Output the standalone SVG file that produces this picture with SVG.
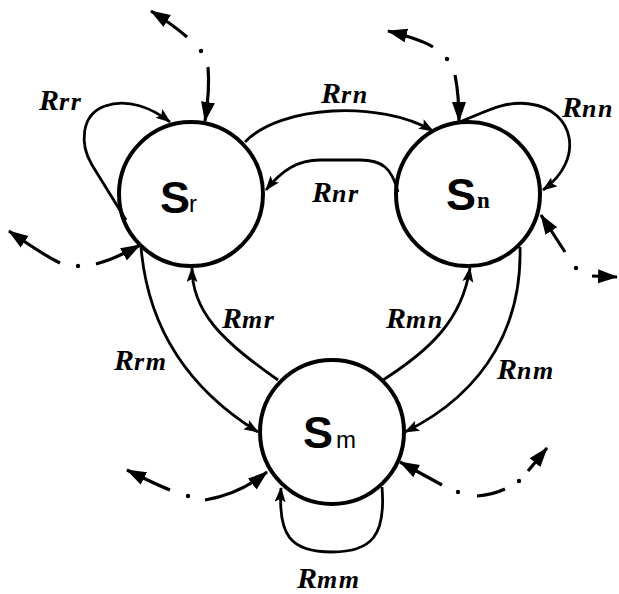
<svg xmlns="http://www.w3.org/2000/svg" width="619" height="594" viewBox="0 0 619 594">
<defs>
<style>
.node{fill:#fff;stroke:#000;stroke-width:4}
.edge{fill:none;stroke:#000;stroke-width:2.8;marker-end:url(#arr)}
.ext{fill:none;stroke:#000;stroke-width:3.2;marker-end:url(#arrD)}
.dot{fill:#000}
.S{font-family:"Liberation Sans",Arial,sans-serif;font-weight:bold;font-size:45px;fill:#000}
.ss{font-family:"Liberation Sans",Arial,sans-serif;font-weight:normal;font-size:24px}
.sn{font-family:"Liberation Serif","Times New Roman",serif;font-weight:bold;font-size:23px}
.lab{font-family:"Liberation Serif","Times New Roman",serif;font-weight:bold;font-style:italic;font-size:30px;fill:#000}
.sub{font-size:26px;letter-spacing:1.5px}
</style>
<marker id="arr" markerUnits="userSpaceOnUse" markerWidth="17" markerHeight="12" refX="14" refY="5.5" orient="auto">
<path d="M0,0 L15,5.5 L0,11 L3,5.5 z" fill="#000"/>
</marker>
<marker id="arrD" markerUnits="userSpaceOnUse" markerWidth="22" markerHeight="15" refX="19" refY="7" orient="auto">
<path d="M0,0 L20,7 L0,14 z" fill="#000"/>
</marker>
</defs>
<rect width="619" height="594" fill="#fff"/>
<g id="node-Sr">
<circle class="node" cx="191" cy="194" r="72"/>
<text class="S" x="160" y="213">S<tspan class="ss" x="189" y="212">r</tspan></text>
</g>
<g id="node-Sn">
<circle class="node" cx="468" cy="194" r="72"/>
<text class="S" x="446" y="210">S<tspan class="sn" x="477" y="208">n</tspan></text>
</g>
<g id="node-Sm">
<circle class="node" cx="332" cy="432" r="72"/>
<text class="S" x="303" y="448">S<tspan class="ss" x="336" y="448">m</tspan></text>
</g>
<g id="connectors">
<path class="edge" d="M126,220 L92,165 C80,145 80,115 105,106 C128,98 152,108 170,122"/>
<path class="edge" d="M245,142 C280,105 380,100 433,131"/>
<path class="edge" d="M398,192 C392,168 382,160 360,160 L320,160 C298,160 282,170 266,190"/>
<path class="edge" d="M460,122 C485,112 505,100 530,104 C575,110 585,160 543,190"/>
<path class="edge" d="M141,247 C148,330 190,390 258,432"/>
<path class="edge" d="M278,380 C220,340 192,310 192,268"/>
<path class="edge" d="M383,380 C430,350 462,320 470,268"/>
<path class="edge" d="M520,247 C522,320 490,390 405,432"/>
<path class="edge" d="M382,487 C386,535 372,552 332,552 C290,552 278,535 281,488"/>
<path class="ext" d="M187,37 Q172,24 151,11"/>
<circle class="dot" cx="201" cy="51" r="2.2"/>
<path class="ext" d="M208,67 Q210,90 205,121"/>
<path class="ext" d="M60,263 Q45,256 9,231"/>
<circle class="dot" cx="78" cy="266" r="2.2"/>
<path class="ext" d="M96,264 Q115,259 140,245"/>
<path class="ext" d="M433,47 Q420,39 388,31"/>
<circle class="dot" cx="447" cy="59" r="2.2"/>
<path class="ext" d="M455,75 Q459,95 459,121"/>
<path class="ext" d="M565,252 L541,215"/>
<circle class="dot" cx="576" cy="268" r="2.2"/>
<path class="ext" d="M592,276 L617,277"/>
<path class="ext" d="M170,490 Q155,484 127,470"/>
<circle class="dot" cx="188" cy="496" r="2.2"/>
<path class="ext" d="M205,500 Q240,494 267,472"/>
<path class="ext" d="M442,485 L400,462"/>
<circle class="dot" cx="458" cy="492" r="2.2"/>
<path d="M477,496 Q492,495 505,489" fill="none" stroke="#000" stroke-width="3.2"/>
<circle class="dot" cx="519" cy="481" r="2.2"/>
<path class="ext" d="M528,471 L547,448"/>
</g>
<g id="labels">
<text class="lab" x="39" y="110">R<tspan class="sub">rr</tspan></text>
<text class="lab" x="321" y="103">R<tspan class="sub">rn</tspan></text>
<text class="lab" x="312" y="202">R<tspan class="sub">nr</tspan></text>
<text class="lab" x="562" y="117">R<tspan class="sub">nn</tspan></text>
<text class="lab" x="222" y="328">R<tspan class="sub">mr</tspan></text>
<text class="lab" x="386" y="328">R<tspan class="sub">mn</tspan></text>
<text class="lab" x="114" y="370">R<tspan class="sub">rm</tspan></text>
<text class="lab" x="497" y="379">R<tspan class="sub">nm</tspan></text>
<text class="lab" x="297" y="588">R<tspan class="sub">mm</tspan></text>
</g>
</svg>
